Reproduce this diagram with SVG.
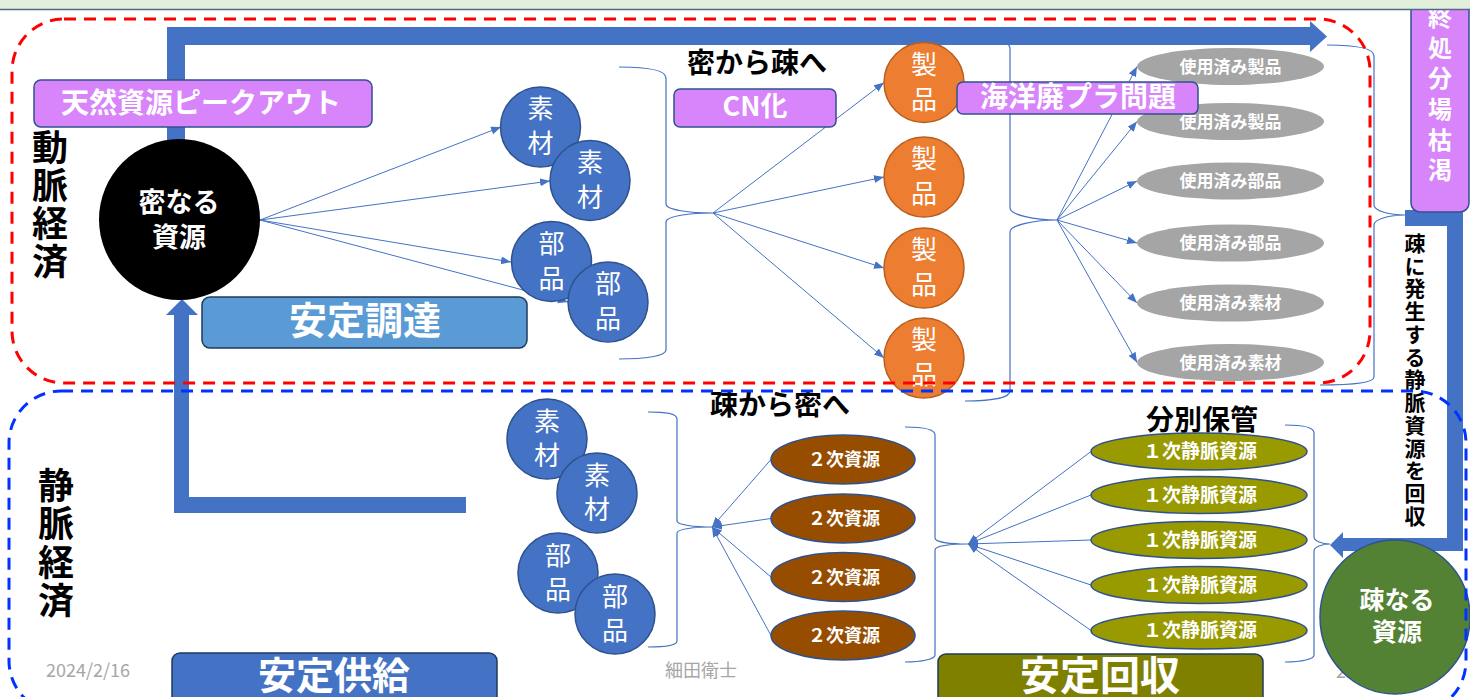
<svg xmlns="http://www.w3.org/2000/svg" width="1470" height="697" viewBox="0 0 1470 697">
<defs>
<marker id="ah" markerUnits="userSpaceOnUse" markerWidth="11" markerHeight="9" refX="10" refY="4" orient="auto">
<path d="M0,0 L10,4 L0,8 Z" fill="#4472C4"/>
</marker>
<style>
.jp{font-family:"Noto Sans CJK JP","Noto Sans CJK SC",sans-serif}
.w{fill:#FFFFFF}
.b{font-weight:700}
.v{writing-mode:vertical-rl;text-orientation:upright}
.thin{stroke:#4472C4;stroke-width:1;fill:none}
.brace{stroke:#4472C4;stroke-width:1.2;fill:none}
.bc{fill:#4472C4;stroke:#2F528F;stroke-width:1.5}
.oc{fill:#ED7D31;stroke:#B85F1E;stroke-width:1.5}
.ge{fill:#A5A5A5}
.be{fill:#974D00;stroke:#2F528F;stroke-width:1.5}
.ye{fill:#999900;stroke:#2F528F;stroke-width:1.5}
.pb{fill:#D884FA;stroke:#2F528F;stroke-width:1.5}
.thick{fill:#4472C4}
.ct{font-size:26px;text-anchor:middle}
.gt{font-size:17px;text-anchor:middle}
.foot{font-size:18px;fill:#A6A6A6}
</style>
</defs>
<rect x="0" y="0" width="1470" height="697" fill="#FFFFFF"/>

<g id="connectors">
<path class="thin" marker-end="url(#ah)" d="M260,220 L501,127"/>
<path class="thin" marker-end="url(#ah)" d="M260,220 L550,181"/>
<path class="thin" marker-end="url(#ah)" d="M260,220 L511,262"/>
<path class="thin" marker-end="url(#ah)" d="M260,220 L568,302"/>
<path class="thin" marker-end="url(#ah)" d="M713,213 L884,82.5"/>
<path class="thin" marker-end="url(#ah)" d="M713,213 L884,177"/>
<path class="thin" marker-end="url(#ah)" d="M713,213 L884,268"/>
<path class="thin" marker-end="url(#ah)" d="M713,213 L884,358"/>
<path class="thin" marker-end="url(#ah)" d="M1057,220 L1137,66.5"/>
<path class="thin" marker-end="url(#ah)" d="M1057,220 L1137,121.5"/>
<path class="thin" marker-end="url(#ah)" d="M1057,220 L1137,181"/>
<path class="thin" marker-end="url(#ah)" d="M1057,220 L1137,243"/>
<path class="thin" marker-end="url(#ah)" d="M1057,220 L1137,303"/>
<path class="thin" marker-end="url(#ah)" d="M1057,220 L1137,362.5"/>
<path class="thin" marker-end="url(#ah)" d="M771,459.5 L712,527"/>
<path class="thin" marker-end="url(#ah)" d="M771,518.5 L712,527"/>
<path class="thin" marker-end="url(#ah)" d="M771,577 L712,527"/>
<path class="thin" marker-end="url(#ah)" d="M771,635.5 L712,527"/>
<path class="thin" marker-end="url(#ah)" d="M1091,451.5 L968,544"/>
<path class="thin" marker-end="url(#ah)" d="M1091,495 L968,544"/>
<path class="thin" marker-end="url(#ah)" d="M1091,540 L968,544"/>
<path class="thin" marker-end="url(#ah)" d="M1091,585 L968,544"/>
<path class="thin" marker-end="url(#ah)" d="M1091,630.5 L968,544"/>
<path class="brace" d="M619,67 C645,67 666,70 666,78 L666,204 C666,210 690,213 713,213 C690,213 666,216 666,222 L666,350 C666,356 645,359 619,359"/>
<path class="brace" d="M965,36 C990,36 1010,40 1010,48 L1010,208 C1010,215 1035,220 1057,220 C1035,220 1010,225 1010,232 L1010,391 C1010,398 990,401 965,401"/>
<path class="brace" d="M1327,45 C1355,45 1374,48 1374,56 L1374,205 C1374,211 1390,215 1405,215 C1390,215 1374,219 1374,225 L1374,377 C1374,383 1350,385 1320,385"/>
<path class="brace" d="M648,412 C665,412 677,413 677,419 L677,521 C677,525 695,527 712,527 C695,527 677,529 677,533 L677,641 C677,645 665,647 648,647"/>
<path class="brace" d="M905,427 C922,427 935,429 935,435 L935,538 C935,542 950,544 968,544 C950,544 935,546 935,550 L935,655 C935,659 922,662 905,662"/>
<path class="brace" d="M1285,425 C1302,425 1314,427 1314,433 L1314,537 C1314,541 1322,544 1330,544 C1322,544 1314,547 1314,551 L1314,655 C1314,659 1302,662 1285,662"/>
<path class="thick" d="M167,143 L167,27 L1310,27 L1310,21 L1327,36.5 L1310,52 L1310,45 L185,45 L185,143 Z"/>
<path class="thick" d="M174,513 L174,315 L166,315 L182,299 L198,315 L189,315 L189,497 L466,497 L466,513 Z"/>
<path class="thick" d="M1405,210 L1463,210 L1463,551 L1343,551 L1343,558 L1330,545 L1343,532 L1343,538 L1447,538 L1447,226 L1405,226 Z"/>
</g>

<text class="jp foot" x="1336" y="678">2</text>

<g id="label-peakout">
<rect class="pb" x="34" y="80" width="338" height="47" rx="7"/>
<text class="jp w b" x="201" y="113" font-size="28" text-anchor="middle">天然資源ピークアウト</text>
</g>

<g id="node-dense">
<circle cx="179.5" cy="219.5" r="80.5" fill="#000000"/>
<text class="jp w b" x="179" y="212" font-size="27" text-anchor="middle">密なる</text>
<text class="jp w b" x="179" y="247" font-size="27" text-anchor="middle">資源</text>
</g>

<g id="label-doumyaku">
<text class="jp b v" x="50" y="129" font-size="36" letter-spacing="2" fill="#000">動脈経済</text>
</g>
<g id="label-joumyaku">
<text class="jp b v" x="56" y="467" font-size="36" letter-spacing="2.5" fill="#000">静脈経済</text>
</g>

<g id="box-anteichoutatsu">
<rect x="202" y="297" width="325" height="51" rx="8" fill="#5B9BD5" stroke="#1F3A5F" stroke-width="1.5"/>
<text class="jp w b" x="365" y="334" font-size="38" text-anchor="middle">安定調達</text>
</g>
<g id="box-anteikyoukyuu">
<rect x="172" y="653" width="325" height="60" rx="8" fill="#4472C4" stroke="#1F3A5F" stroke-width="1.5"/>
<text class="jp w b" x="334" y="689" font-size="38" text-anchor="middle">安定供給</text>
</g>
<g id="box-anteikaishuu">
<rect x="938" y="654" width="325" height="60" rx="8" fill="#808000" stroke="#1F3A5F" stroke-width="1.5"/>
<text class="jp w b" x="1100" y="690" font-size="40" text-anchor="middle">安定回収</text>
</g>

<g id="node-sozai1"><circle class="bc" cx="540.5" cy="127" r="40"/><text class="jp w ct" x="540.5" y="118">素</text><text class="jp w ct" x="540.5" y="153">材</text></g>
<g id="node-sozai2"><circle class="bc" cx="590" cy="180.5" r="40"/><text class="jp w ct" x="590" y="171.5">素</text><text class="jp w ct" x="590" y="206.5">材</text></g>
<g id="node-buhin1"><circle class="bc" cx="551.5" cy="261.5" r="40"/><text class="jp w ct" x="551.5" y="252.5">部</text><text class="jp w ct" x="551.5" y="287.5">品</text></g>
<g id="node-buhin2"><circle class="bc" cx="608" cy="302" r="40"/><text class="jp w ct" x="608" y="293">部</text><text class="jp w ct" x="608" y="328">品</text></g>

<g id="node-seihin1"><circle class="oc" cx="924" cy="82.5" r="40"/><text class="jp w ct" x="924" y="73.5">製</text><text class="jp w ct" x="924" y="108.5">品</text></g>
<g id="node-seihin2"><circle class="oc" cx="924" cy="177" r="40"/><text class="jp w ct" x="924" y="168">製</text><text class="jp w ct" x="924" y="203">品</text></g>
<g id="node-seihin3"><circle class="oc" cx="924" cy="268" r="40"/><text class="jp w ct" x="924" y="259">製</text><text class="jp w ct" x="924" y="294">品</text></g>
<g id="node-seihin4"><circle class="oc" cx="924" cy="358" r="40"/><text class="jp w ct" x="924" y="349">製</text><text class="jp w ct" x="924" y="384">品</text></g>

<g id="label-mitsu-so"><text class="jp b" x="757" y="73" font-size="28" text-anchor="middle" fill="#000">密から疎へ</text></g>
<g id="label-cn"><rect class="pb" x="674" y="89" width="162" height="38" rx="6"/><text class="jp w b" x="755" y="116" font-size="27" text-anchor="middle">CN化</text></g>

<g id="node-used1"><ellipse class="ge" cx="1230.5" cy="66.5" rx="93.5" ry="18.5"/><text class="jp w b gt" x="1230.5" y="72.5">使用済み製品</text></g>
<g id="node-used2"><ellipse class="ge" cx="1230.5" cy="121.5" rx="93.5" ry="18.5"/><text class="jp w b gt" x="1230.5" y="127.5">使用済み製品</text></g>
<g id="node-used3"><ellipse class="ge" cx="1230.5" cy="181" rx="93.5" ry="18.5"/><text class="jp w b gt" x="1230.5" y="187">使用済み部品</text></g>
<g id="node-used4"><ellipse class="ge" cx="1230.5" cy="243" rx="93.5" ry="18.5"/><text class="jp w b gt" x="1230.5" y="249">使用済み部品</text></g>
<g id="node-used5"><ellipse class="ge" cx="1230.5" cy="303" rx="93.5" ry="18.5"/><text class="jp w b gt" x="1230.5" y="309">使用済み素材</text></g>
<g id="node-used6"><ellipse class="ge" cx="1230.5" cy="362.5" rx="93.5" ry="18.5"/><text class="jp w b gt" x="1230.5" y="368.5">使用済み素材</text></g>

<g id="label-plastic"><rect class="pb" x="957" y="82" width="241" height="32" rx="6"/><text class="jp w b" x="1078" y="107" font-size="28" text-anchor="middle">海洋廃プラ問題</text></g>

<g id="label-saishuu"><rect class="pb" x="1411" y="-10" width="58" height="222" rx="9"/>
<text class="jp w b v" x="1440" y="5" font-size="24" letter-spacing="6.6">終処分場枯渇</text></g>

<g id="label-kaishuu">
<text class="jp b v" x="1415" y="232.5" font-size="21" letter-spacing="1.75" fill="#000">疎に発生する静脈資源を回収</text>
</g>

<g id="node-bsozai1"><circle class="bc" cx="547" cy="439" r="40"/><text class="jp w ct" x="547" y="431">素</text><text class="jp w ct" x="547" y="465">材</text></g>
<g id="node-bsozai2"><circle class="bc" cx="597" cy="493" r="40"/><text class="jp w ct" x="597" y="485">素</text><text class="jp w ct" x="597" y="519">材</text></g>
<g id="node-bbuhin1"><circle class="bc" cx="558" cy="573" r="40"/><text class="jp w ct" x="558" y="565">部</text><text class="jp w ct" x="558" y="599">品</text></g>
<g id="node-bbuhin2"><circle class="bc" cx="615" cy="614" r="40"/><text class="jp w ct" x="615" y="606">部</text><text class="jp w ct" x="615" y="640">品</text></g>

<g id="label-so-mitsu"><text class="jp b" x="780" y="415" font-size="28" text-anchor="middle" fill="#000">疎から密へ</text></g>

<g id="node-niji1"><ellipse class="be" cx="843" cy="459.5" rx="72" ry="24.5"/><text class="jp w b" x="844" y="466" font-size="18" text-anchor="middle">２次資源</text></g>
<g id="node-niji2"><ellipse class="be" cx="843" cy="518.5" rx="72" ry="24.5"/><text class="jp w b" x="844" y="525" font-size="18" text-anchor="middle">２次資源</text></g>
<g id="node-niji3"><ellipse class="be" cx="843" cy="577" rx="72" ry="24.5"/><text class="jp w b" x="844" y="583.5" font-size="18" text-anchor="middle">２次資源</text></g>
<g id="node-niji4"><ellipse class="be" cx="843" cy="635.5" rx="72" ry="24.5"/><text class="jp w b" x="844" y="642" font-size="18" text-anchor="middle">２次資源</text></g>

<g id="label-bunbetsu"><text class="jp b" x="1202" y="430" font-size="28" text-anchor="middle" fill="#000">分別保管</text></g>

<g id="node-ichiji1"><ellipse class="ye" cx="1199" cy="451.5" rx="108" ry="18.5"/><text class="jp w b" x="1200" y="458" font-size="19" text-anchor="middle">１次静脈資源</text></g>
<g id="node-ichiji2"><ellipse class="ye" cx="1199" cy="495" rx="108" ry="18.5"/><text class="jp w b" x="1200" y="501.5" font-size="19" text-anchor="middle">１次静脈資源</text></g>
<g id="node-ichiji3"><ellipse class="ye" cx="1199" cy="540" rx="108" ry="18.5"/><text class="jp w b" x="1200" y="546.5" font-size="19" text-anchor="middle">１次静脈資源</text></g>
<g id="node-ichiji4"><ellipse class="ye" cx="1199" cy="585" rx="108" ry="18.5"/><text class="jp w b" x="1200" y="591.5" font-size="19" text-anchor="middle">１次静脈資源</text></g>
<g id="node-ichiji5"><ellipse class="ye" cx="1199" cy="630.5" rx="108" ry="18.5"/><text class="jp w b" x="1200" y="637" font-size="19" text-anchor="middle">１次静脈資源</text></g>

<g id="node-sparse">
<ellipse cx="1395" cy="617" rx="75" ry="77" fill="#548235" stroke="#2F528F" stroke-width="1.5"/>
<text class="jp w b" x="1397" y="609" font-size="25" text-anchor="middle">疎なる</text>
<text class="jp w b" x="1397" y="641" font-size="25" text-anchor="middle">資源</text>
</g>

<g id="regions">
<rect x="12" y="19" width="1358" height="364" rx="52" fill="none" stroke="#FF0000" stroke-width="3" stroke-dasharray="12 8"/>
<rect x="9" y="391" width="1457" height="322" rx="52" fill="none" stroke="#0033FF" stroke-width="3" stroke-dasharray="12 8"/>
</g>

<text class="jp foot" x="46" y="677">2024/2/16</text>
<text class="jp foot" x="665" y="677">細田衛士</text>

<rect x="0" y="0" width="1470" height="9" fill="#E2EFDA"/>
<line x1="0" y1="9.5" x2="1470" y2="9.5" stroke="#4F6A8C" stroke-width="1.5"/>
</svg>
